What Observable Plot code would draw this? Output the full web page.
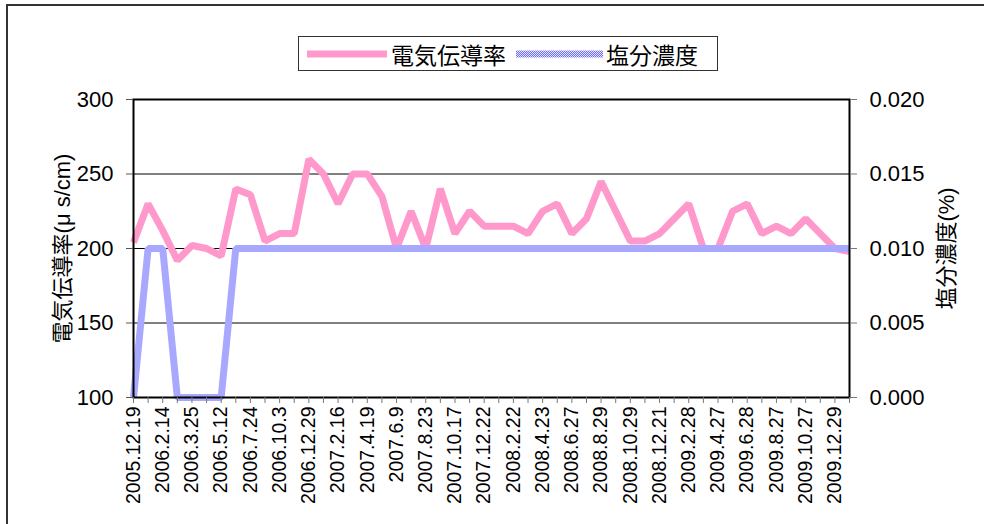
<!DOCTYPE html>
<html>
<head>
<meta charset="utf-8">
<script src="https://cdn.jsdelivr.net/npm/d3@7"></script>
<script src="https://cdn.jsdelivr.net/npm/@observablehq/plot@0.6"></script>
<style>
  body { margin: 0; background: #fff; }
  #wrap { position: relative; width: 984px; height: 524px; overflow: hidden; background: #fff; }
  #outer { position: absolute; left: 6px; top: 4px; width: 1200px; height: 800px;
           border-left: 2px solid #333; border-top: 2px solid #333; }
  #chart { position: absolute; left: 0; top: 0; }
  #legend { position: absolute; left: 298px; top: 36px; width: 420px; height: 35px;
            border: 1px solid #333; box-sizing: border-box; background: #fff;
            display: flex; align-items: center; font-family: "Noto Sans CJK JP", sans-serif;
            font-size: 23px; color: #000; }
  #legend svg { display: block; }
</style>
</head>
<body>
<div id="wrap">
  <div id="outer"></div>
  <div id="chart"></div>
  <div id="legend"></div>
</div>
<script>
// ---- data ----
const dateLabels = [
  "2005.12.19", "2006.2.14", "2006.3.25", "2006.5.12", "2006.7.24", "2006.10.3",
  "2006.12.29", "2007.2.16", "2007.4.19", "2007.6.9", "2007.8.23", "2007.10.17",
  "2007.12.22", "2008.2.22", "2008.4.23", "2008.6.27", "2008.8.29", "2008.10.29",
  "2008.12.21", "2009.2.28", "2009.4.27", "2009.6.28", "2009.8.27", "2009.10.27",
  "2009.12.29"
];
// 電気伝導率 (μS/cm), one value per sampling date (50 samples)
const conductivity = [
  204, 230, 212, 192, 202, 200, 195, 240, 236, 205,
  210, 210, 260, 250, 230, 250, 250, 235, 200, 225,
  200, 240, 210, 225, 215, 215, 215, 210, 225, 230,
  210, 220, 245, 225, 205, 205, 210, 220, 230, 200,
  200, 225, 230, 210, 215, 210, 220, 210, 200, 198
];
// 塩分濃度 (%)
const salinity = [
  0, 0.01, 0.01, 0, 0, 0, 0, 0.01, 0.01, 0.01,
  0.01, 0.01, 0.01, 0.01, 0.01, 0.01, 0.01, 0.01, 0.01, 0.01,
  0.01, 0.01, 0.01, 0.01, 0.01, 0.01, 0.01, 0.01, 0.01, 0.01,
  0.01, 0.01, 0.01, 0.01, 0.01, 0.01, 0.01, 0.01, 0.01, 0.01,
  0.01, 0.01, 0.01, 0.01, 0.01, 0.01, 0.01, 0.01, 0.01, 0.01
];
const leftTicks = [100, 150, 200, 250, 300];
const rightTicks = [0, 0.005, 0.010, 0.015, 0.020];
const gridValues = [150, 200, 250];
const seriesNames = ["電気伝導率", "塩分濃度"];
const leftTitle = "電気伝導率(μ s/cm)";
const rightTitle = "塩分濃度(%)";

// right axis (salinity) is mapped onto the left scale: 0..0.02 -> 100..300
const toLeft = v => 100 + v * 10000;
const sampleIndex = d3.range(conductivity.length);

const pink = "#ff99cc";
const font = "'Liberation Sans', 'Noto Sans CJK JP', sans-serif";
const patternInner = `<rect width="2" height="2" fill="#e4e4ff"/><rect width="1" height="1" fill="#6c6cff"/><rect x="1" y="1" width="1" height="1" fill="#6c6cff"/>`;

const chart = Plot.plot({
  width: 984,
  height: 524,
  marginLeft: 133,
  marginRight: 135,
  marginTop: 99,
  marginBottom: 127,
  style: { fontFamily: font, background: "transparent", color: "#000", overflow: "visible" },
  x: { type: "linear", domain: [0, conductivity.length - 1] },
  y: { domain: [100, 300] },
  marks: [
    Plot.ruleY(gridValues, { stroke: "#000", strokeWidth: 1 }),
    Plot.lineY(conductivity, {
      x: (d, i) => i, y: d => d, stroke: pink, strokeWidth: 7,
      strokeLinejoin: "miter", strokeLinecap: "butt"
    }),
    Plot.lineY(salinity, {
      x: (d, i) => i, y: d => toLeft(d), stroke: "url(#dither)", strokeWidth: 7,
      strokeLinejoin: "miter", strokeLinecap: "butt"
    }),
    Plot.frame({ stroke: "#000", strokeWidth: 2 }),
    Plot.axisX({
      ticks: sampleIndex,
      tickFormat: i => (i % 2 === 0 ? dateLabels[i / 2] : ""),
      tickRotate: -90, tickSize: 6, tickPadding: 3, fontSize: 19.5,
      stroke: "#777", label: null
    }),
    Plot.axisY({
      anchor: "left", ticks: leftTicks, tickSize: 7, tickPadding: 13, fontSize: 22,
      stroke: "#555", label: leftTitle, labelAnchor: "center", labelOffset: 79, labelArrow: "none"
    }),
    Plot.axisY({
      anchor: "right", ticks: rightTicks.map(toLeft), tickSize: 7, tickPadding: 13, fontSize: 22,
      tickFormat: d => d3.format(".3f")((d - 100) / 10000),
      stroke: "#777", label: rightTitle, labelAnchor: "center", labelOffset: 104, labelArrow: "none"
    })
  ]
});

// dithered blue pattern used by the 塩分濃度 line (Excel-style)
chart.insertAdjacentHTML("afterbegin",
  `<defs><pattern id="dither" patternUnits="userSpaceOnUse" width="2" height="2">${patternInner}</pattern></defs>`);
document.getElementById("chart").appendChild(chart);

// legend
const legend = document.getElementById("legend");
legend.innerHTML = `
  <svg width="96" height="14" style="margin-left:8px"><line x1="0" x2="80" y1="7" y2="7" stroke="${pink}" stroke-width="7"/></svg>
  <span style="margin-left:-12px">${seriesNames[0]}</span>
  <svg width="96" height="14" style="margin-left:10px"><defs><pattern id="dl" patternUnits="userSpaceOnUse" width="2" height="2">${patternInner}</pattern></defs><line x1="0" x2="87" y1="7" y2="7" stroke="url(#dl)" stroke-width="7"/></svg>
  <span style="margin-left:-6px">${seriesNames[1]}</span>`;
</script>
</body>
</html>
